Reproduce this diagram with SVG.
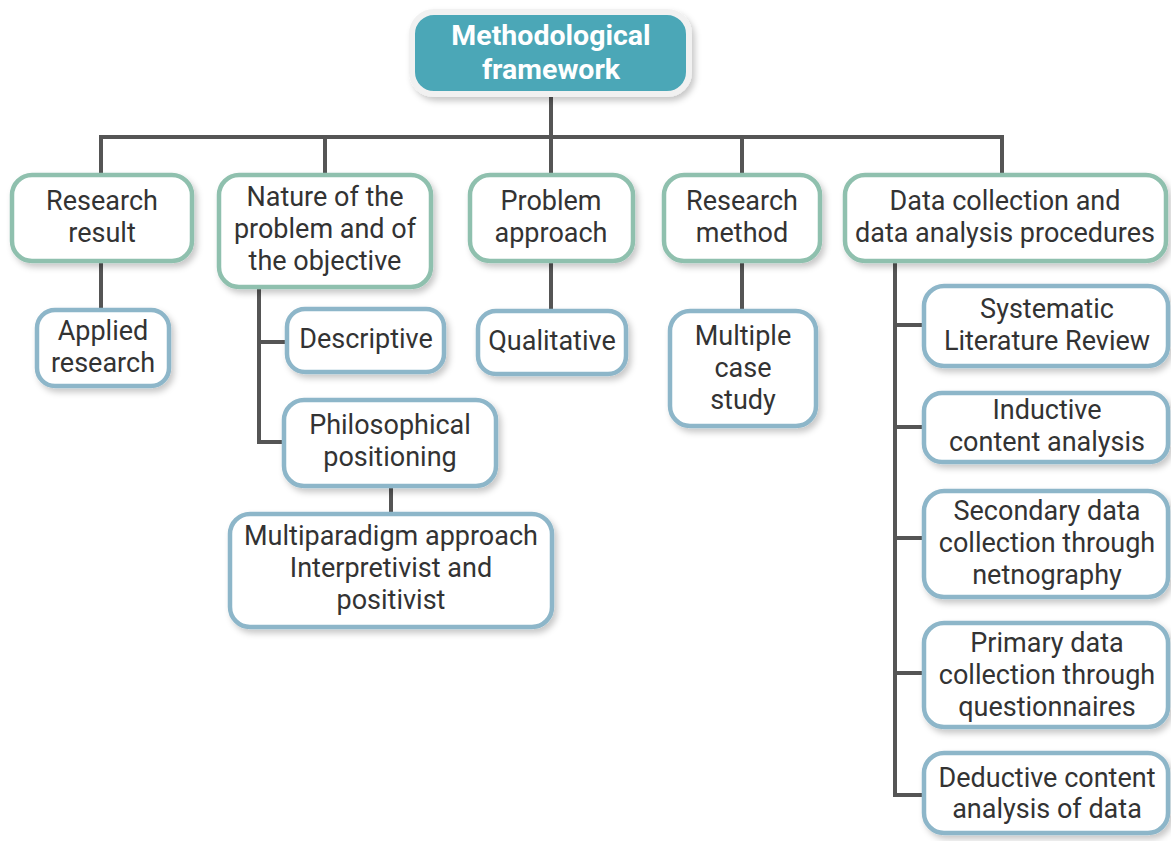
<svg xmlns="http://www.w3.org/2000/svg" width="1171" height="841" viewBox="0 0 1171 841">
<defs>
<filter id="sh" x="-10%" y="-10%" width="125%" height="130%">
<feDropShadow dx="3" dy="4" stdDeviation="3" flood-color="#000" flood-opacity="0.22"/>
</filter>
</defs>
<style>
.l1{fill:#fff;stroke:#8fc0ae;stroke-width:4.5;filter:url(#sh)}
.l2{fill:#fff;stroke:#8db6c9;stroke-width:4.5;filter:url(#sh)}
.t{font-family:Roboto,"Liberation Sans",sans-serif;font-size:27px;font-weight:400;fill:#333;text-anchor:middle}
.tt{font-family:Roboto,"Liberation Sans",sans-serif;font-size:28.5px;font-weight:700;fill:#fff;text-anchor:middle}
.c{fill:none;stroke:#555;stroke-width:4}
</style>
<rect width="1171" height="841" fill="#fff"/>
<g id="connectors">
<path class="c" d="M551 96V137M101 137H1002M101 135V176M325 135V176M551 135V176M742 135V176M1002 135V176"/>
<path class="c" d="M101 262V311"/>
<path class="c" d="M259 288V442H284M259 342H288"/>
<path class="c" d="M391 487V515"/>
<path class="c" d="M551 262V312"/>
<path class="c" d="M742 262V312"/>
<path class="c" d="M895 262V795H925M895 325H925M895 427H925M895 538H925M895 673H925"/>
</g>
<g id="root">
<rect x="412" y="12" width="277" height="82" rx="22" fill="#4ba7b7" stroke="#f1f1f1" stroke-width="6" filter="url(#sh)"/>
<text class="tt" x="551" y="45">Methodological</text>
<text class="tt" x="551" y="79">framework</text>
</g>
<g id="research-result">
<rect class="l1" x="12" y="175" width="180" height="86" rx="20"/>
<text class="t" x="102" y="210">Research</text>
<text class="t" x="102" y="242">result</text>
</g>
<g id="nature">
<rect class="l1" x="219" y="175" width="212" height="112" rx="20"/>
<text class="t" x="325" y="206">Nature of the</text>
<text class="t" x="325" y="238">problem and of</text>
<text class="t" x="325" y="270">the objective</text>
</g>
<g id="problem-approach">
<rect class="l1" x="470" y="175" width="163" height="86" rx="20"/>
<text class="t" x="551" y="210">Problem</text>
<text class="t" x="551" y="242">approach</text>
</g>
<g id="research-method">
<rect class="l1" x="664" y="175" width="156" height="86" rx="20"/>
<text class="t" x="742" y="210">Research</text>
<text class="t" x="742" y="242">method</text>
</g>
<g id="data-collection">
<rect class="l1" x="845" y="175" width="321" height="86" rx="20"/>
<text class="t" x="1005" y="210">Data collection and</text>
<text class="t" x="1005" y="242">data analysis procedures</text>
</g>
<g id="applied-research">
<rect class="l2" x="37" y="310" width="132" height="76" rx="18"/>
<text class="t" x="103" y="340">Applied</text>
<text class="t" x="103" y="372">research</text>
</g>
<g id="descriptive">
<rect class="l2" x="287" y="309" width="157" height="63" rx="18"/>
<text class="t" x="366" y="348">Descriptive</text>
</g>
<g id="philosophical">
<rect class="l2" x="284" y="400" width="212" height="86" rx="20"/>
<text class="t" x="390" y="434">Philosophical</text>
<text class="t" x="390" y="466">positioning</text>
</g>
<g id="multiparadigm">
<rect class="l2" x="230" y="514" width="322" height="113" rx="20"/>
<text class="t" x="391" y="545">Multiparadigm approach</text>
<text class="t" x="391" y="577">Interpretivist and</text>
<text class="t" x="391" y="609">positivist</text>
</g>
<g id="qualitative">
<rect class="l2" x="478" y="311" width="148" height="63" rx="18"/>
<text class="t" x="552" y="350">Qualitative</text>
</g>
<g id="multiple-case">
<rect class="l2" x="670" y="311" width="146" height="115" rx="20"/>
<text class="t" x="743" y="345">Multiple</text>
<text class="t" x="743" y="377">case</text>
<text class="t" x="743" y="409">study</text>
</g>
<g id="systematic">
<rect class="l2" x="924" y="286" width="244" height="80" rx="20"/>
<text class="t" x="1047" y="318">Systematic</text>
<text class="t" x="1047" y="350">Literature Review</text>
</g>
<g id="inductive">
<rect class="l2" x="924" y="393" width="244" height="69" rx="18"/>
<text class="t" x="1047" y="419">Inductive</text>
<text class="t" x="1047" y="451">content analysis</text>
</g>
<g id="secondary">
<rect class="l2" x="924" y="491" width="244" height="106" rx="20"/>
<text class="t" x="1047" y="520">Secondary data</text>
<text class="t" x="1047" y="552">collection through</text>
<text class="t" x="1047" y="584">netnography</text>
</g>
<g id="primary">
<rect class="l2" x="924" y="623" width="244" height="104" rx="20"/>
<text class="t" x="1047" y="652">Primary data</text>
<text class="t" x="1047" y="684">collection through</text>
<text class="t" x="1047" y="716">questionnaires</text>
</g>
<g id="deductive">
<rect class="l2" x="924" y="753" width="244" height="80" rx="20"/>
<text class="t" x="1047" y="787">Deductive content</text>
<text class="t" x="1047" y="818">analysis of data</text>
</g>
</svg>
